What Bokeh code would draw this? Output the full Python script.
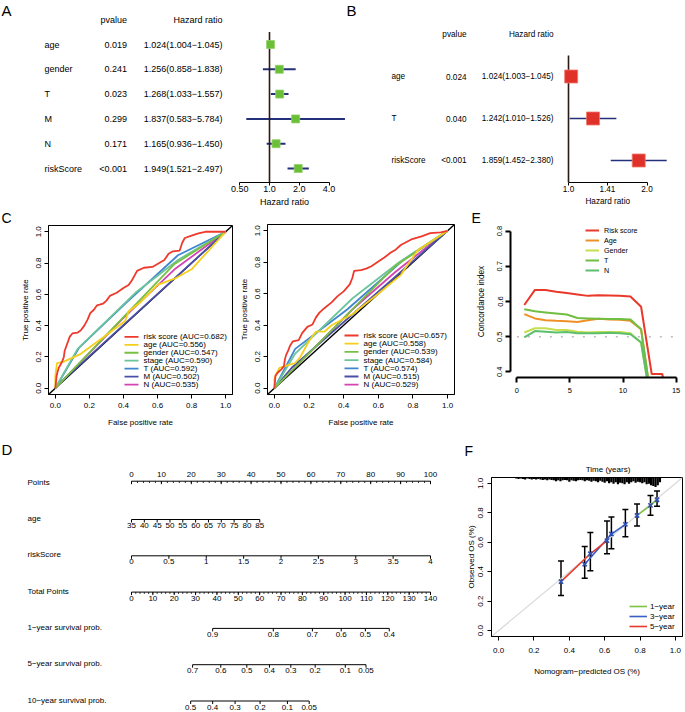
import numpy as np
from bokeh.plotting import figure
from bokeh.layouts import row, column
from bokeh.models import (Range1d, FixedTicker, Label, Legend, LegendItem, Title,
                          PrintfTickFormatter, ColumnDataSource, Whisker, TeeHead)
from bokeh.core.properties import value
from bokeh.embed import file_html
from bokeh.resources import INLINE

FONT = "Liberation Sans"
MINUS = "\u2212"

# ======================= DATA =======================
# Panel A : univariate Cox regression
a_vars = ["age", "gender", "T", "M", "N", "riskScore"]
a_p = ["0.019", "0.241", "0.023", "0.299", "0.171", "<0.001"]
a_hr = [1.024, 1.256, 1.268, 1.837, 1.165, 1.949]
a_lo = [1.004, 0.858, 1.033, 0.583, 0.936, 1.521]
a_hi = [1.045, 1.838, 1.557, 5.784, 1.450, 2.497]
a_ticks = [0.5, 1.0, 2.0, 4.0]
a_tick_labels = ["0.50", "1.0", "2.0", "4.0"]

# Panel B : multivariate Cox regression
b_vars = ["age", "T", "riskScore"]
b_p = ["0.024", "0.040", "<0.001"]
b_hr = [1.024, 1.242, 1.859]
b_lo = [1.003, 1.010, 1.452]
b_hi = [1.045, 1.526, 2.380]
b_ticks = [1.0, 1.41, 2.0]
b_tick_labels = ["1.0", "1.41", "2.0"]

# Panel C : ROC curves
c_names = ["risk score", "age", "gender", "stage", "T", "M", "N"]
c_colors = ["#EE3A2C", "#F5CF1B", "#78C043", "#6CC49A", "#4185D0", "#4C4FA8", "#D543B3"]
c1_auc = [0.682, 0.556, 0.547, 0.590, 0.592, 0.502, 0.535]
c2_auc = [0.657, 0.558, 0.539, 0.584, 0.574, 0.515, 0.529]
c_ticks = [0.0, 0.2, 0.4, 0.6, 0.8, 1.0]

c1_risk_fpr = [0, 0.004, 0.008, 0.012, 0.02, 0.03, 0.04, 0.05, 0.055, 0.065, 0.075, 0.085, 0.1, 0.13,
               0.15, 0.17, 0.19, 0.205, 0.225, 0.245, 0.28, 0.3, 0.32, 0.36, 0.4, 0.43, 0.45, 0.465,
               0.48, 0.52, 0.57, 0.61, 0.64, 0.665, 0.69, 0.73, 0.745, 0.76, 0.8, 0.84, 0.88, 1.0]
c1_risk_tpr = [0, 0.04, 0.08, 0.10, 0.13, 0.15, 0.17, 0.20, 0.24, 0.27, 0.30, 0.33, 0.35, 0.355,
               0.37, 0.40, 0.44, 0.48, 0.50, 0.53, 0.54, 0.56, 0.59, 0.61, 0.64, 0.66, 0.69, 0.72,
               0.75, 0.77, 0.775, 0.80, 0.82, 0.86, 0.875, 0.88, 0.93, 0.96, 0.975, 0.99, 1.0, 1.0]
c1_age_fpr = [0, 0, 0.01, 0.05, 0.15, 0.3, 0.41, 0.43, 0.5, 0.6, 0.7, 0.8, 0.85, 1.0]
c1_age_tpr = [0, 0.08, 0.16, 0.17, 0.22, 0.34, 0.43, 0.49, 0.55, 0.66, 0.70, 0.76, 0.82, 1.0]
c1_gender_fpr = [0, 0.70, 1.0]
c1_gender_tpr = [0, 0.794, 1.0]
c1_stage_fpr = [0, 0.13, 0.47, 0.72, 1.0]
c1_stage_tpr = [0, 0.25, 0.61, 0.82, 1.0]
c1_T_fpr = [0, 0.14, 0.42, 0.72, 1.0]
c1_T_tpr = [0, 0.26, 0.55, 0.85, 1.0]
c1_M_fpr = [0, 0.02, 1.0]
c1_M_tpr = [0, 0.026, 1.0]
c1_N_fpr = [0, 0.40, 0.70, 1.0]
c1_N_tpr = [0, 0.45, 0.76, 1.0]

c2_risk_fpr = [0, 0.003, 0.006, 0.02, 0.04, 0.055, 0.06, 0.067, 0.08, 0.09, 0.106, 0.14, 0.16, 0.19,
               0.22, 0.24, 0.26, 0.29, 0.33, 0.365, 0.4, 0.435, 0.45, 0.46, 0.5, 0.53, 0.56, 0.6,
               0.635, 0.67, 0.7, 0.73, 0.79, 0.85, 0.9, 0.96, 1.0]
c2_risk_tpr = [0, 0.04, 0.08, 0.10, 0.12, 0.14, 0.18, 0.21, 0.24, 0.27, 0.297, 0.305, 0.35, 0.39,
               0.405, 0.45, 0.48, 0.51, 0.545, 0.585, 0.615, 0.66, 0.70, 0.745, 0.75, 0.76, 0.775, 0.805,
               0.83, 0.86, 0.88, 0.91, 0.945, 0.965, 0.985, 0.99, 1.0]
c2_age_fpr = [0, 0, 0.015, 0.03, 0.06, 0.12, 0.15, 0.2, 0.24, 0.29, 0.33, 0.45, 0.6, 0.73, 0.78, 0.83, 0.86, 1.0]
c2_age_tpr = [0, 0.06, 0.10, 0.13, 0.14, 0.16, 0.20, 0.30, 0.36, 0.36, 0.40, 0.47, 0.60, 0.72, 0.80, 0.88, 0.90, 1.0]
c2_gender_fpr = [0, 0.70, 1.0]
c2_gender_tpr = [0, 0.778, 1.0]
c2_stage_fpr = [0, 0.12, 0.45, 0.72, 1.0]
c2_stage_tpr = [0, 0.22, 0.57, 0.80, 1.0]
c2_T_fpr = [0, 0.12, 0.42, 0.75, 1.0]
c2_T_tpr = [0, 0.25, 0.50, 0.82, 1.0]
c2_M_fpr = [0, 0.10, 1.0]
c2_M_tpr = [0, 0.13, 1.0]
c2_N_fpr = [0, 0.45, 0.70, 1.0]
c2_N_tpr = [0, 0.50, 0.74, 1.0]

# Panel E : time-dependent concordance index
e_names = ["Risk score", "Age", "Gender", "T", "N"]
e_colors = ["#E8392B", "#EF9027", "#C4DE4E", "#70BE42", "#5CBF6E"]
e_time = [0.7, 1.7, 2.7, 3.7, 4.7, 5.7, 6.7, 7.7, 8.7, 9.7, 10.7, 11.7, 12.7, 13.7, 14.7]
e_risk = [0.590, 0.633, 0.633, 0.628, 0.624, 0.620, 0.616, 0.618, 0.617, 0.616, 0.614, 0.585, 0.394, 0.394, 0.200]
e_age = [0.564, 0.552, 0.547, 0.545, 0.544, 0.542, 0.547, 0.551, 0.549, 0.548, 0.545, 0.521, 0.310]
e_gender = [0.512, 0.524, 0.524, 0.519, 0.519, 0.514, 0.512, 0.513, 0.513, 0.513, 0.510, 0.482, 0.300]
e_T = [0.578, 0.572, 0.569, 0.566, 0.563, 0.553, 0.552, 0.551, 0.550, 0.550, 0.549, 0.521, 0.310]
e_N = [0.498, 0.516, 0.514, 0.512, 0.513, 0.510, 0.510, 0.510, 0.511, 0.510, 0.507, 0.484, 0.300]
e_xticks = [0, 5, 10, 15]
e_yticks = [0.4, 0.5, 0.6, 0.7, 0.8]
e_ref = 0.5

# Panel D : nomogram
d_rows = ["Points", "age", "riskScore", "Total Points",
          "1" + MINUS + "year survival prob.", "5" + MINUS + "year survival prob.",
          "10" + MINUS + "year survival prob."]
pts_ticks = [0, 10, 20, 30, 40, 50, 60, 70, 80, 90, 100]
age_ticks = [35, 40, 45, 50, 55, 60, 65, 70, 75, 80, 85]
age_max_points = 42.9
rs_ticks = [0, 0.5, 1, 1.5, 2, 2.5, 3, 3.5, 4]
rs_max_points = 100
tot_ticks = [0, 10, 20, 30, 40, 50, 60, 70, 80, 90, 100, 110, 120, 130, 140]
tot_max = 140
surv1_vals = [0.9, 0.8, 0.7, 0.6, 0.5, 0.4]
surv1_tp = [38.0, 66.4, 84.7, 98.2, 109.5, 120.7]
surv5_vals = [0.7, 0.6, 0.5, 0.4, 0.3, 0.2, 0.1, 0.05]
surv5_tp = [28.6, 41.8, 54.0, 64.6, 74.6, 86.0, 100.1, 109.8]
surv10_vals = [0.5, 0.4, 0.3, 0.2, 0.1, 0.05]
surv10_tp = [27.7, 38.0, 48.5, 60.2, 73.0, 83.2]

# Panel F : calibration
f_names = ["1" + MINUS + "year", "3" + MINUS + "year", "5" + MINUS + "year"]
f_colors = ["#7DC242", "#3A5EC6", "#E8392B"]
f1_x = [0.783, 0.859, 0.896]; f1_y = [0.782, 0.851, 0.889]
f1_lo = [0.711, 0.784, 0.844]; f1_hi = [0.860, 0.918, 0.949]
f3_x = [0.487, 0.638, 0.717]; f3_y = [0.451, 0.656, 0.722]
f3_lo = [0.356, 0.556, 0.638]; f3_hi = [0.571, 0.771, 0.822]
f5_x = [0.353, 0.519, 0.613]; f5_y = [0.333, 0.522, 0.611]
f5_lo = [0.238, 0.407, 0.522]; f5_hi = [0.473, 0.667, 0.744]
f_ticks = [0.0, 0.2, 0.4, 0.6, 0.8, 1.0]
hist_x = [0.100, 0.1125, 0.125, 0.1375, 0.150, 0.1625, 0.175, 0.1875, 0.200, 0.2125, 0.225, 0.2375,
          0.250, 0.2625, 0.275, 0.2875, 0.300, 0.3125, 0.325, 0.3375, 0.350, 0.3625, 0.375, 0.3875,
          0.400, 0.4125, 0.425, 0.4375, 0.450, 0.4625, 0.475, 0.4875, 0.500, 0.5125, 0.525, 0.5375,
          0.550, 0.5625, 0.575, 0.5875, 0.600, 0.6125, 0.625, 0.6375, 0.650, 0.6625, 0.675, 0.6875,
          0.700, 0.7125, 0.725, 0.7375, 0.750, 0.7625, 0.775, 0.7875, 0.800, 0.8125, 0.825, 0.8375,
          0.850, 0.8625, 0.875, 0.8875, 0.900, 0.9125]
hist_freq = [1, 1.5, 1, 1.5, 2, 1, 1.5, 2, 1.5, 2, 1.5, 2,
             2.5, 2, 3, 2, 2.5, 3, 4, 3, 4, 3, 2.5, 3,
             4.5, 3, 3.5, 4, 3, 2.5, 3, 4, 3, 3.5, 4.5, 3.5,
             4, 5, 3.5, 4.5, 5.5, 4, 6, 5, 6.5, 5, 7, 5.5,
             6, 7, 5, 6.5, 5, 4, 5.5, 4.5, 5, 6, 5, 7,
             6.5, 8, 9, 10, 8, 5]


# ======================= HELPERS =======================
class Geo:
    def __init__(self, fl, ft, fr, fb, xr, yr):
        self.fl, self.ft, self.fr, self.fb, self.xr, self.yr = fl, ft, fr, fb, xr, yr

    def x(self, px):
        return self.xr[0] + (px - self.fl) / (self.fr - self.fl) * (self.xr[1] - self.xr[0])

    def y(self, py):
        return self.yr[0] + (self.fb - py) / (self.fb - self.ft) * (self.yr[1] - self.yr[0])


def mkfig(box, frame, xr, yr, **kw):
    L, T, W, H = box
    fl, ft, fr, fb = frame
    p = figure(width=W, height=H, x_range=Range1d(*xr), y_range=Range1d(*yr),
               min_border_left=fl - L, min_border_right=L + W - fr,
               min_border_top=ft - T, min_border_bottom=T + H - fb,
               output_backend="svg", toolbar_location=None, **kw)
    p.frame_align = False
    p.xgrid.visible = False
    p.ygrid.visible = False
    p.outline_line_color = None
    p.background_fill_color = "white"
    p.border_fill_color = "white"
    return p, Geo(fl, ft, fr, fb, xr, yr)


def style_axis(ax, size="8px", tick_out=4, lab_so=2, axlab_so=2, lw=1):
    ax.major_label_text_font = FONT
    ax.major_label_text_font_size = size
    ax.major_label_text_color = "black"
    ax.axis_label_text_font = FONT
    ax.axis_label_text_font_size = size
    ax.axis_label_text_font_style = "normal"
    ax.axis_label_text_color = "black"
    ax.major_tick_in = 0
    ax.major_tick_out = tick_out
    ax.minor_tick_in = 0
    ax.minor_tick_out = 0
    ax.major_label_standoff = lab_so
    ax.axis_label_standoff = axlab_so
    ax.axis_line_color = "black"
    ax.axis_line_width = lw
    ax.major_tick_line_color = "black"
    ax.major_tick_line_width = lw


def set_title(t, text, offset, size, standoff=0):
    # titles live in the figure border, so they can sit outside the data frame
    t.text = text
    t.align = "left"
    t.offset = offset
    t.standoff = standoff
    t.text_font = FONT
    t.text_font_size = size
    t.text_font_style = "normal"
    t.text_color = "black"


def inner_letter(p, g, px, py, t):
    p.add_layout(Label(x=g.x(px), y=g.y(py), text=t, text_font=FONT, text_font_size="15px",
                       text_align="left", text_baseline="top", text_color="black"))


def txt(p, xs, ys, texts, size, align="left", baseline="middle"):
    p.text(x=xs, y=ys, text=texts, text_font=value(FONT), text_font_size=size,
           text_align=align, text_baseline=baseline, text_color="black")


def forest(box, frame, one_px, dbl_px, last_px, step_px, vars_, pv, hr, lo, hi, ticks, tlabels,
           col_px, size, em, sq_size, sq_fill, sq_line, ci_w, let, let_px):
    fl, ft, fr, fb = frame
    xr = ((fl - one_px) / dbl_px, (fr - one_px) / dbl_px)
    yr = (1 - (fb - last_px) / step_px, 1 + (last_px - ft) / step_px)
    p, g = mkfig(box, frame, xr, yr, y_axis_location=None)
    n = len(vars_)
    ys = [n - i for i in range(n)]
    lab_px, p_px, hr_px = col_px
    txt(p, [g.x(lab_px)] * n, ys, vars_, size, "left")
    txt(p, [g.x(p_px)] * n, ys, pv, size, "right")
    hr_txt = ["%.3f(%.3f%s%.3f)" % (h, l, MINUS, u) for h, l, u in zip(hr, lo, hi)]
    txt(p, [g.x(hr_px)] * n, ys, hr_txt, size, "right")
    txt(p, [g.x(p_px), g.x(hr_px)], [n + 1, n + 1], ["pvalue", "Hazard ratio"], size, "right")
    p.segment(x0=list(np.log2(lo)), y0=ys, x1=list(np.log2(hi)), y1=ys,
              line_color="#24307A", line_width=ci_w)
    p.segment(x0=[0.0], y0=[yr[0]], x1=[0.0], y1=[n + 0.5], line_color="#2A1A12", line_width=1.6)
    p.scatter(x=list(np.log2(hr)), y=ys, marker="square", size=sq_size,
              fill_color=sq_fill, line_color=sq_line, line_width=0.8)
    ax = p.xaxis[0]
    tk = [float(np.log2(t)) for t in ticks]
    ax.ticker = FixedTicker(ticks=tk)
    ax.major_label_overrides = {t: l for t, l in zip(tk, tlabels)}
    ax.bounds = (tk[0], tk[-1])
    style_axis(ax, size=size, tick_out=3, lab_so=0, axlab_so=0)
    # axis title centred under the bounded axis (as in R), placed as a title below the axis
    mid_px = one_px + (tk[0] + tk[-1]) / 2 * dbl_px
    half_w = 5.446 * em / 2          # half width of "Hazard ratio" in this font size
    t = Title()
    set_title(t, "Hazard ratio", mid_px - half_w - fl, size, 0)
    p.add_layout(t, "below")
    inner_letter(p, g, let_px[0], let_px[1], let)
    return p


def roc(box, frame, curves, aucs, leg, let=None):
    p, g = mkfig(box, frame, (-0.04, 1.04), (-0.04, 1.04))
    p.outline_line_color = "black"
    p.outline_line_width = 1
    p.segment(x0=[-0.04], y0=[-0.04], x1=[1.04], y1=[1.04], line_color="black", line_width=1.4)
    for i in reversed(range(len(curves))):
        fx, fy = curves[i]
        p.line(fx, fy, line_color=c_colors[i], line_width=1.8)
    # legend (no box), laid out row by row
    lx0, lx1, tx, ry0, rstep = leg
    n = len(c_names)
    ly = [g.y(ry0 + rstep * i) for i in range(n)]
    p.segment(x0=[g.x(lx0)] * n, y0=ly, x1=[g.x(lx1)] * n, y1=ly, line_color=c_colors, line_width=1.8)
    labels = ["%s (AUC=%.3f)" % (nm, a) for nm, a in zip(c_names, aucs)]
    txt(p, [g.x(tx)] * n, ly, labels, "8px", "left")
    ax = p.xaxis[0]
    ax.ticker = FixedTicker(ticks=c_ticks)
    ax.formatter = PrintfTickFormatter(format="%.1f")
    ax.axis_label = "False positive rate"
    style_axis(ax, tick_out=4, lab_so=4, axlab_so=7)
    ay = p.yaxis[0]
    ay.ticker = FixedTicker(ticks=c_ticks)
    ay.formatter = PrintfTickFormatter(format="%.1f")
    ay.axis_label = "True positive rate"
    ay.major_label_orientation = "parallel"
    style_axis(ay, tick_out=4, lab_so=3, axlab_so=4)
    if let:
        set_title(p.title, let, 1 - frame[0], "14px", 0)
    return p


R1 = 207  # bottom of first row

# ======================= PANEL A / B =======================
pA = forest((0, 0, 345, R1), (0, 0, 345, 182), 269, 29.8, 168, 24.8,
            a_vars, a_p, a_hr, a_lo, a_hi, a_ticks, a_tick_labels,
            (44, 126.5, 222), "9px", 9.0, 8, "#6ABF36", "#93D26A", 2, "A", (1, 1))
pB = forest((345, 0, 339, R1), (345, 0, 684, 182), 568, 78.5, 160, 42.0,
            b_vars, b_p, b_hr, b_lo, b_hi, b_ticks, b_tick_labels,
            (391, 466, 553), "8.2px", 8.2, 13, "#E0302A", "#F07A6A", 1.5, "B", (346, 1))

# ======================= PANEL C =======================
c1_curves = [(c1_risk_fpr, c1_risk_tpr), (c1_age_fpr, c1_age_tpr), (c1_gender_fpr, c1_gender_tpr),
             (c1_stage_fpr, c1_stage_tpr), (c1_T_fpr, c1_T_tpr), (c1_M_fpr, c1_M_tpr),
             (c1_N_fpr, c1_N_tpr)]
c2_curves = [(c2_risk_fpr, c2_risk_tpr), (c2_age_fpr, c2_age_tpr), (c2_gender_fpr, c2_gender_tpr),
             (c2_stage_fpr, c2_stage_tpr), (c2_T_fpr, c2_T_tpr), (c2_M_fpr, c2_M_tpr),
             (c2_N_fpr, c2_N_tpr)]
pC1 = roc((0, R1, 234, 440 - R1), (48, 224, 232, 394), c1_curves, c1_auc, (124, 138, 143, 336, 8.0), "C")
pC2 = roc((234, R1, 228, 440 - R1), (267, 224, 454, 394), c2_curves, c2_auc, (344, 358, 363, 335, 8.2))

# ======================= PANEL E =======================
pE, gE = mkfig((462, R1, 222, 440 - R1), (510, 222, 682, 377), (-0.6, 15.6), (0.384, 0.816))
pE.segment(x0=[e_xticks[0]], y0=[e_ref], x1=[14.8], y1=[e_ref], line_color="#BDBDBD",
           line_width=1.5, line_dash="2 9")
e_series = [e_risk, e_age, e_gender, e_T, e_N]
e_rends = []
for ser, colr in zip(e_series, e_colors):
    e_rends.append(pE.line(e_time[:len(ser)], ser, line_color=colr, line_width=2))
legE = Legend(items=[LegendItem(label=nm, renderers=[r]) for nm, r in zip(e_names, e_rends)],
              location=(75, 102), glyph_width=14, glyph_height=10, label_height=10,
              label_standoff=5, spacing=0, padding=0, margin=0, border_line_color=None,
              background_fill_alpha=0, label_text_font=FONT, label_text_font_size="7.2px",
              label_text_color="black")
pE.add_layout(legE)
axE = pE.xaxis[0]
axE.ticker = FixedTicker(ticks=e_xticks)
axE.bounds = (e_xticks[0], e_xticks[-1])
style_axis(axE, size="7.5px", tick_out=5, lab_so=5, lw=2)
ayE = pE.yaxis[0]
ayE.ticker = FixedTicker(ticks=e_yticks)
ayE.formatter = PrintfTickFormatter(format="%.1f")
ayE.bounds = (e_yticks[0], e_yticks[-1])
ayE.axis_label = "Concordance index"
ayE.major_label_orientation = "parallel"
style_axis(ayE, size="7.5px", tick_out=5, lab_so=3, axlab_so=9, lw=2)
ayE.axis_label_text_font_size = "8.3px"
set_title(pE.title, "E", 471 - 510, "14px", 0)

# ======================= PANEL D =======================
D_ROW0, D_STEP = 481.7, 36.3
D_TOP, D_BOT = 440, 711
nrow = len(d_rows)
xrD = ((0 - 131) * 100 / (430 - 131), (455 - 131) * 100 / (430 - 131))
yrD = (-(D_BOT - (D_ROW0 + (nrow - 1) * D_STEP)) / D_STEP, (nrow - 1) + (D_ROW0 - D_TOP) / D_STEP)
pD, gD = mkfig((0, D_TOP, 455, D_BOT - D_TOP), (0, D_TOP, 455, D_BOT), xrD, yrD,
               x_axis_location=None, y_axis_location=None)
row_y = [nrow - 1 - i for i in range(nrow)]
txt(pD, [gD.x(27)] * nrow, row_y, d_rows, "8px", "left")
PX = 1.0 / D_STEP


def scale_row(yc, xs, labels, above=False, minor=None):
    yl = yc + (PX if above else -PX)
    n = len(xs)
    pD.segment(x0=[min(xs)], y0=[yl], x1=[max(xs)], y1=[yl], line_color="black", line_width=1)
    pD.segment(x0=xs, y0=[yl] * n, x1=xs, y1=[yl - 3 * PX] * n, line_color="black", line_width=1)
    if minor is not None:
        m = len(minor)
        pD.segment(x0=minor, y0=[yl] * m, x1=minor, y1=[yl - 1.8 * PX] * m,
                   line_color="black", line_width=0.8)
    ly = yl + 7 * PX if above else yl - 6 * PX
    txt(pD, xs, [ly] * n, labels, "8px", "center")


scale_row(row_y[0], pts_ticks, [str(v) for v in pts_ticks], above=True,
          minor=[float(v) for v in np.arange(0, 101, 2)])
scale_row(row_y[1], [(a - age_ticks[0]) / (age_ticks[-1] - age_ticks[0]) * age_max_points for a in age_ticks],
          [str(a) for a in age_ticks])
scale_row(row_y[2], [r / rs_ticks[-1] * rs_max_points for r in rs_ticks], ["%g" % r for r in rs_ticks])
scale_row(row_y[3], [t / tot_max * 100 for t in tot_ticks], [str(t) for t in tot_ticks],
          minor=[float(v) / tot_max * 100 for v in np.arange(0, 141, 2)])
scale_row(row_y[4], [t / tot_max * 100 for t in surv1_tp], ["%g" % v for v in surv1_vals])
scale_row(row_y[5], [t / tot_max * 100 for t in surv5_tp], ["%g" % v for v in surv5_vals])
scale_row(row_y[6], [t / tot_max * 100 for t in surv10_tp], ["%g" % v for v in surv10_vals])
inner_letter(pD, gD, 1, 440, "D")

# ======================= PANEL F =======================
pF, gF = mkfig((455, D_TOP, 229, D_BOT - D_TOP), (491, 474, 682, 636), (-0.04, 1.04), (-0.04, 1.04))
pF.outline_line_color = "black"
pF.segment(x0=[-0.04], y0=[-0.04], x1=[1.04], y1=[1.04], line_color="#D9D9D9", line_width=1.2)
hmax = max(hist_freq)
pF.vbar(x=hist_x, width=0.0125, top=[1.04] * len(hist_x),
        bottom=[1.04 - f / hmax * 0.065 for f in hist_freq], fill_color="black", line_color=None)
f_sets = [(f1_x, f1_y, f1_lo, f1_hi), (f3_x, f3_y, f3_lo, f3_hi), (f5_x, f5_y, f5_lo, f5_hi)]
f_rends = []
for (fx, fy, flo, fhi), colr in zip(f_sets, f_colors):
    f_rends.append(pF.line(fx, fy, line_color=colr, line_width=1.6))
for (fx, fy, flo, fhi) in f_sets:
    src = ColumnDataSource(dict(x=fx, lo=flo, hi=fhi))
    pF.add_layout(Whisker(source=src, base="x", lower="lo", upper="hi", dimension="height",
                          line_color="black", line_width=1.5,
                          upper_head=TeeHead(size=6, line_color="black", line_width=1.5),
                          lower_head=TeeHead(size=6, line_color="black", line_width=1.5)))
for (fx, fy, flo, fhi) in f_sets:
    pF.scatter(fx, fy, marker="x", size=6, line_color="#2F52B8", line_width=1.6)
legF = Legend(items=[LegendItem(label=nm, renderers=[r]) for nm, r in zip(f_names, f_rends)],
              location=(138, 5), glyph_width=18, glyph_height=10, label_height=10,
              label_standoff=3, spacing=0, padding=0, margin=0, border_line_color=None,
              background_fill_alpha=0, label_text_font=FONT, label_text_font_size="8px",
              label_text_color="black")
pF.add_layout(legF)
axF = pF.xaxis[0]
axF.ticker = FixedTicker(ticks=f_ticks)
axF.formatter = PrintfTickFormatter(format="%.1f")
axF.axis_label = "Nomogram" + MINUS + "predicted OS (%)"
style_axis(axF, tick_out=4, lab_so=7, axlab_so=11)
ayF = pF.yaxis[0]
ayF.ticker = FixedTicker(ticks=f_ticks)
ayF.formatter = PrintfTickFormatter(format="%.1f")
ayF.axis_label = "Observed OS (%)"
ayF.major_label_orientation = "parallel"
style_axis(ayF, tick_out=4, lab_so=4, axlab_so=0)
# panel letter is the outer title; "Time (years)" (centred near x=601.7 px, ~5.611 em wide)
# is added afterwards so that it sits next to the frame
set_title(pF.title, "F", 464 - 491, "14px", 0)
tF = Title()
set_title(tF, "Time (years)", 607.7 - 5.611 * 8 / 2 - 491, "8px", 8)
pF.add_layout(tF, "above")

# ======================= LAYOUT =======================
layout = column(row(pA, pB), row(pC1, pC2, pE), row(pD, pF))
open("out.html", "w").write(file_html(layout, INLINE))
